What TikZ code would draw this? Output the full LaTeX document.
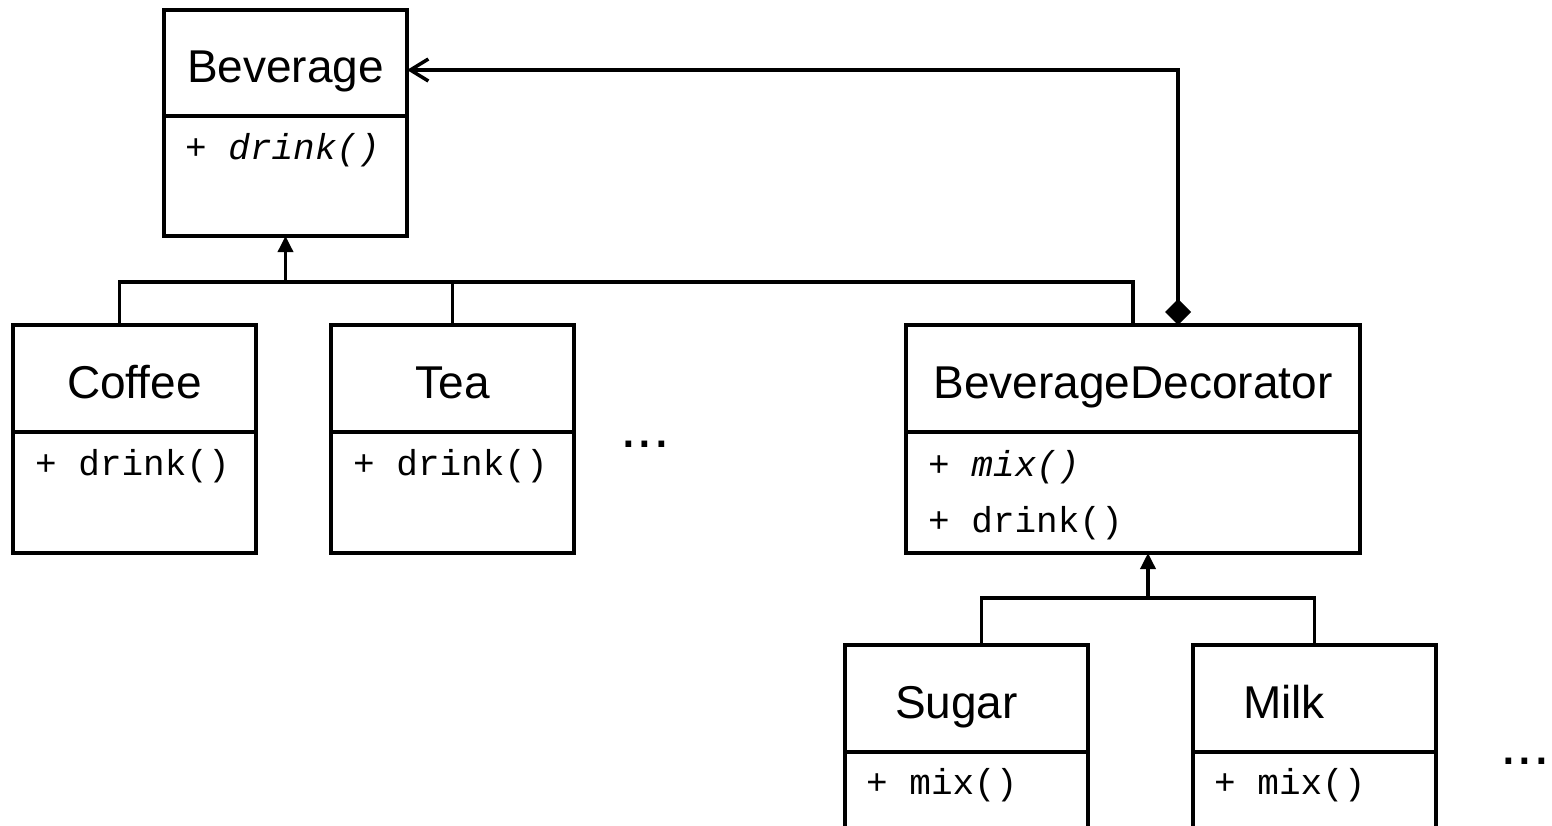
\documentclass[tikz,border=0pt]{standalone}
\usepackage{fontspec}
\setmainfont{Liberation Sans}
\setmonofont{Liberation Mono}
\usetikzlibrary{positioning,arrows.meta}
\tikzstyle{head}=[rectangle,draw=black,line width=4pt,outer sep=0pt,minimum width=243pt,minimum height=107pt,text height=44pt,text depth=5pt,font=\fontsize{46}{50}\selectfont]
\tikzstyle{headleft}=[head,text width=143pt,inner xsep=50pt,align=left]
\tikzstyle{body}=[rectangle,draw=black,line width=4pt,outer sep=0pt,minimum width=243pt,minimum height=121pt]
\tikzstyle{method}=[anchor=west,inner sep=0pt,font=\ttfamily\fontsize{36}{40}\selectfont]
\tikzstyle{dots}=[anchor=base,inner sep=0pt,font=\fontsize{60}{64}\selectfont]
\tikzstyle{line}=[line width=3.5pt]
\tikzstyle{inherit}=[line,-{Triangle[length=16pt,width=15pt]}]
\tikzstyle{compose}=[line,{Diamond[length=26pt,width=26pt]}-{Straight Barb[length=18pt,width=22pt]}]
\begin{document}
\begin{tikzpicture}[x=1pt,y=-1pt]
            \useasboundingbox (0,0) rectangle (1552,825);
            \clip (0,0) rectangle (1552,825);
            % classes
            \node (bevHead)[head,anchor=north west,minimum height=106pt] at (164,10) {Beverage};
            \node (bevBody)[body,below=0pt of bevHead,minimum height=120pt]{};
            \node (bevM1)[method] at ([xshift=21pt,yshift=-34pt]bevBody.north west) {\itshape + drink()};
            \node (cofHead)[head,anchor=north west] at (13,325) {Coffee};
            \node (cofBody)[body,below=0pt of cofHead]{};
            \node (cofM1)[method] at ([xshift=22pt,yshift=-34pt]cofBody.north west) {+ drink()};
            \node (teaHead)[head,anchor=north west] at (331,325) {Tea};
            \node (teaBody)[body,below=0pt of teaHead]{};
            \node (teaM1)[method] at ([xshift=22pt,yshift=-34pt]teaBody.north west) {+ drink()};
            \node (bdHead)[head,anchor=north west,minimum width=454pt] at (906,325) {BeverageDecorator};
            \node (bdBody)[body,below=0pt of bdHead,minimum width=454pt]{};
            \node (bdM1)[method] at ([xshift=22pt,yshift=-35pt]bdBody.north west) {\itshape + mix()};
            \node (bdM2)[method] at ([xshift=22pt,yshift=-91pt]bdBody.north west) {+ drink()};
            \node (sugHead)[headleft,anchor=north west] at (845,645) {Sugar};
            \node (sugBody)[body,below=0pt of sugHead]{};
            \node (sugM1)[method] at ([xshift=21pt,yshift=-33pt]sugBody.north west) {+ mix()};
            \node (milkHead)[headleft,anchor=north west] at (1193,645) {Milk};
            \node (milkBody)[body,below=0pt of milkHead]{};
            \node (milkM1)[method] at ([xshift=21pt,yshift=-33pt]milkBody.north west) {+ mix()};
            \node (dots1)[dots] at (645,447) {...};
            \node (dots2)[dots] at (1525,764) {...};
            % connectors
            \coordinate (bus1) at ([yshift=-46pt]bevBody.south);
            \draw [line] ([xshift=-15pt]cofHead.north) |- (bdHead.north |- bus1) -- (bdHead.north);
            \draw [line] (teaHead.north) -- (teaHead.north |- bus1);
            \draw [inherit] (bus1) -- (bevBody.south);
            \coordinate (bevIn) at ([yshift=-7pt]bevHead.east);
            \draw [compose] ([xshift=45pt]bdHead.north) |- (bevIn);
            \coordinate (bus2) at ([xshift=15pt,yshift=-45pt]bdBody.south);
            \draw [line] ([xshift=15pt]sugHead.north) |- (milkHead.north |- bus2) -- (milkHead.north);
            \draw [inherit] (bus2) -- (bdBody.south -| bus2);
        \end{tikzpicture}
\end{document}
